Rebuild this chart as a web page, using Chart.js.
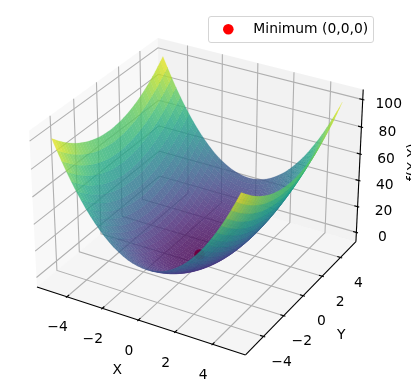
<!DOCTYPE html>
<html lang="en">
<head>
    <title>Surface with minimum</title>
    <meta charset="utf-8" />
    <script src="https://cdn.jsdelivr.net/npm/chart.js@4/dist/chart.umd.min.js"></script>
    <style>
        html, body { margin: 0; padding: 0; background: #fff; }
        canvas { display: block; }
    </style>
</head>
<body>
    <canvas id="chart" width="411" height="392"></canvas>
    <script>
        //Values.
        var gridSteps = [0, 0.25, 0.5, 0.75, 1, 1.25, 1.5, 1.75, 2, 2.25, 2.5, 2.75, 3, 3.25, 3.5, 3.75, 4, 4.25, 4.5, 4.75, 5];
        //Height of one quadrant, row = |x| step, column = |y| step. The other three quadrants mirror it.
        var zRows = [
            [0,.1,.3,.6,1,1.6,2.3,3.1,4,5.1,6.3,7.6,9,10.6,12.3,14.1,16,18.1,20.3,22.6,25],
            [.2,.3,.5,.8,1.2,1.8,2.5,3.3,4.2,5.3,6.5,7.8,9.2,10.8,12.5,14.3,16.2,18.3,20.5,22.8,25.2],
            [.8,.9,1.1,1.4,1.8,2.4,3.1,3.9,4.8,5.9,7.1,8.4,9.8,11.4,13.1,14.9,16.8,18.9,21.1,23.4,25.8],
            [1.7,1.8,2,2.3,2.7,3.3,4,4.8,5.7,6.8,8,9.3,10.7,12.3,14,15.8,17.7,19.8,22,24.3,26.7],
            [3,3.1,3.3,3.6,4,4.6,5.3,6.1,7,8.1,9.3,10.6,12,13.6,15.3,17.1,19,21.1,23.3,25.6,28],
            [4.7,4.8,5,5.3,5.7,6.3,7,7.8,8.7,9.8,11,12.3,13.7,15.3,17,18.8,20.7,22.8,25,27.3,29.7],
            [6.8,6.9,7.1,7.4,7.8,8.4,9.1,9.9,10.8,11.9,13.1,14.4,15.8,17.4,19.1,20.9,22.8,24.9,27.1,29.4,31.8],
            [9.2,9.3,9.5,9.8,10.2,10.8,11.5,12.3,13.2,14.3,15.5,16.8,18.2,19.8,21.5,23.3,25.2,27.3,29.5,31.8,34.2],
            [12,12.1,12.3,12.6,13,13.6,14.3,15.1,16,17.1,18.3,19.6,21,22.6,24.3,26.1,28,30.1,32.3,34.6,37],
            [15.2,15.3,15.5,15.8,16.2,16.8,17.5,18.3,19.2,20.3,21.5,22.8,24.2,25.8,27.5,29.3,31.2,33.3,35.5,37.8,40.2],
            [18.8,18.9,19.1,19.4,19.8,20.4,21.1,21.9,22.8,23.9,25.1,26.4,27.8,29.4,31.1,32.9,34.8,36.9,39.1,41.4,43.8],
            [22.7,22.8,23,23.3,23.7,24.3,25,25.8,26.7,27.8,29,30.3,31.7,33.3,35,36.8,38.7,40.8,43,45.3,47.7],
            [27,27.1,27.3,27.6,28,28.6,29.3,30.1,31,32.1,33.3,34.6,36,37.6,39.3,41.1,43,45.1,47.3,49.6,52],
            [31.7,31.8,32,32.3,32.7,33.3,34,34.8,35.7,36.8,38,39.3,40.7,42.3,44,45.8,47.7,49.8,52,54.3,56.7],
            [36.8,36.9,37.1,37.4,37.8,38.4,39.1,39.9,40.8,41.9,43.1,44.4,45.8,47.4,49.1,50.9,52.8,54.9,57.1,59.4,61.8],
            [42.2,42.3,42.5,42.8,43.2,43.8,44.5,45.3,46.2,47.3,48.5,49.8,51.2,52.8,54.5,56.3,58.2,60.3,62.5,64.8,67.2],
            [48,48.1,48.3,48.6,49,49.6,50.3,51.1,52,53.1,54.3,55.6,57,58.6,60.3,62.1,64,66.1,68.3,70.6,73],
            [54.2,54.3,54.5,54.8,55.2,55.8,56.5,57.3,58.2,59.3,60.5,61.8,63.2,64.8,66.5,68.3,70.2,72.3,74.5,76.8,79.2],
            [60.8,60.9,61.1,61.4,61.8,62.4,63.1,63.9,64.8,65.9,67.1,68.4,69.8,71.4,73.1,74.9,76.8,78.9,81.1,83.4,85.8],
            [67.7,67.8,68,68.3,68.7,69.3,70,70.8,71.7,72.8,74,75.3,76.7,78.3,80,81.8,83.7,85.8,88,90.3,92.7],
            [75,75.1,75.3,75.6,76,76.6,77.3,78.1,79,80.1,81.3,82.6,84,85.6,87.3,89.1,91,93.1,95.3,97.6,100]
        ];
        var xTicks = [-4, -2, 0, 2, 4];
        var yTicks = [-4, -2, 0, 2, 4];
        var zTicks = [0, 20, 40, 60, 80, 100];
        var minimumPoint = [0, 0, 0];
        var minimumLabel = 'Minimum (0,0,0)';
        var viridis = ['#440154', '#482475', '#414487', '#355f8d', '#2a788e', '#21918c', '#22a884', '#44bf70', '#7ad151', '#bddf26', '#fde725'];

        //Axis limits and box of the 3D view.
        var xView = 5.5, zLo = -5, zHi = 105;
        var xPane = 5.729, zPaneLo = -7.29, zPaneHi = 107.29;
        var boxXY = 1.19048, boxZ = 0.89286;
        var FONT = '"DejaVu Sans"';
        var FONT_SIZE = 13.89;

        //Camera: elevation 30, azimuth -60, distance 10.
        function depth(p) {
            var dx = p[0] / (2 * xView) * boxXY, dy = p[1] / (2 * xView) * boxXY;
            var dz = (p[2] - (zLo + zHi) / 2) / (zHi - zLo) * boxZ;
            return 0.43301 * dx - 0.75 * dy + 0.5 * dz;
        }

        //3D data point -> value on the two flat chart scales (which run in pixels).
        function project(p) {
            var dx = p[0] / (2 * xView) * boxXY, dy = p[1] / (2 * xView) * boxXY;
            var dz = (p[2] - (zLo + zHi) / 2) / (zHi - zLo) * boxZ;
            var xc = 0.86603 * dx + 0.5 * dy;
            var yc = -0.25 * dx + 0.43301 * dy + 0.86603 * dz;
            var w = 10 - depth(p);
            return { x: 199.5 + 1926 * xc / w, y: 188.6 - 1913 * yc / w };
        }

        function viridisAt(t) {
            t = Math.max(0, Math.min(1, t)) * (viridis.length - 1);
            var i = Math.min(Math.floor(t), viridis.length - 2), f = t - i;
            var a = parseInt(viridis[i].slice(1), 16), b = parseInt(viridis[i + 1].slice(1), 16);
            var mix = function (s) {
                return Math.round(((a >> s) & 255) * (1 - f) + ((b >> s) & 255) * f);
            };
            return 'rgba(' + mix(16) + ',' + mix(8) + ',' + mix(0) + ',0.8)';
        }

        function polyline(points, color, width) {
            return {
                type: 'line', data: points.map(project), borderColor: color, borderWidth: width,
                pointRadius: 0, fill: false, tension: 0, clip: false
            };
        }

        function polygon(points, color, seam) {
            var pts = points.concat([points[0]]);
            return {
                type: 'line', data: pts.map(project), backgroundColor: color, borderWidth: seam || 0,
                borderColor: seam ? color : 'rgba(0,0,0,0)', pointRadius: 0, fill: 'shape', tension: 0, clip: false
            };
        }

        //Datasets are listed back to front, and reversed at the end because Chart.js paints index 0 last.
        var layers = [];

        //Panes
        layers.push(polygon([[-xPane, -xPane, zPaneLo], [-xPane, xPane, zPaneLo], [-xPane, xPane, zPaneHi], [-xPane, -xPane, zPaneHi]], 'rgba(242,242,242,0.5)'));
        layers.push(polygon([[-xPane, xPane, zPaneLo], [xPane, xPane, zPaneLo], [xPane, xPane, zPaneHi], [-xPane, xPane, zPaneHi]], 'rgba(230,230,230,0.5)'));
        layers.push(polygon([[-xPane, -xPane, zPaneLo], [xPane, -xPane, zPaneLo], [xPane, xPane, zPaneLo], [-xPane, xPane, zPaneLo]], 'rgba(236,236,236,0.5)'));

        //Grid lines
        var GRID = '#b0b0b0';
        xTicks.forEach(function (t) {
            layers.push(polyline([[t, -xPane, zPaneLo], [t, xPane, zPaneLo], [t, xPane, zPaneHi]], GRID, 1.1));
        });
        yTicks.forEach(function (t) {
            layers.push(polyline([[xPane, t, zPaneLo], [-xPane, t, zPaneLo], [-xPane, t, zPaneHi]], GRID, 1.1));
        });
        zTicks.forEach(function (t) {
            layers.push(polyline([[-xPane, -xPane, t], [-xPane, xPane, t], [xPane, xPane, t]], GRID, 1.1));
        });

        //Axis lines and tick marks
        layers.push(polyline([[-xPane, -xPane, zPaneLo], [xPane, -xPane, zPaneLo]], '#000', 1.1));
        layers.push(polyline([[xPane, -xPane, zPaneLo], [xPane, xPane, zPaneLo]], '#000', 1.1));
        layers.push(polyline([[xPane, xPane, zPaneLo], [xPane, xPane, zPaneHi]], '#000', 1.1));
        xTicks.forEach(function (t) {
            layers.push(polyline([[t, -xPane - 0.09, zPaneLo], [t, -xPane + 0.18, zPaneLo]], '#000', 1.1));
        });
        yTicks.forEach(function (t) {
            layers.push(polyline([[xPane + 0.09, t, zPaneLo], [xPane - 0.18, t, zPaneLo]], '#000', 1.1));
        });
        zTicks.forEach(function (t) {
            layers.push(polyline([[xPane + 0.09, xPane, t], [xPane - 0.18, xPane, t]], '#000', 1.1));
        });

        //Minimum marker, painted before the surface so it shows through it
        layers.push({
            type: 'scatter', label: minimumLabel, data: [project(minimumPoint)],
            backgroundColor: '#ff0000', borderWidth: 0, pointRadius: 5.3, clip: false
        });

        //Surface facets, far ones first
        var full = [];
        for (var n = gridSteps.length - 1; n > 0; n--) { full.push(-n); }
        for (n = 0; n < gridSteps.length; n++) { full.push(n); }
        function vertex(i, j) {
            return [Math.sign(i) * gridSteps[Math.abs(i)], Math.sign(j) * gridSteps[Math.abs(j)], zRows[Math.abs(i)][Math.abs(j)]];
        }
        var facets = [];
        for (var a = 0; a < full.length - 1; a++) {
            for (var b = 0; b < full.length - 1; b++) {
                var quad = [vertex(full[a], full[b]), vertex(full[a + 1], full[b]), vertex(full[a + 1], full[b + 1]), vertex(full[a], full[b + 1])];
                var meanZ = 0, meanD = 0;
                quad.forEach(function (q) { meanZ += q[2] / 4; meanD += depth(q) / 4; });
                facets.push({ quad: quad, z: meanZ, d: meanD });
            }
        }
        facets.sort(function (p, q) { return p.d - q.d; });
        facets.forEach(function (f) {
            layers.push(polygon(f.quad, viridisAt(f.z / 100), 0.2));
        });

        //Tick labels, axis labels and the legend box
        var textPlugin = {
            id: 'textPlugin',
            afterDraw: function (chart) {
                var ctx = chart.ctx, sx = chart.scales.x, sy = chart.scales.y;
                function label(text, p, ox, oy) {
                    var q = project(p);
                    ctx.fillText(text, sx.getPixelForValue(q.x) + ox, sy.getPixelForValue(q.y) + oy);
                }
                function tickText(t) {
                    return String(t).replace('-', '\u2212');
                }
                ctx.save();
                ctx.fillStyle = '#000';
                ctx.font = FONT_SIZE + 'px ' + FONT;
                ctx.textAlign = 'center';
                ctx.textBaseline = 'middle';
                xTicks.forEach(function (t) { label(tickText(t), [t, -xPane, zPaneLo], -9.5, 31); });
                yTicks.forEach(function (t) { label(tickText(t), [xPane, t, zPaneLo], 18, 26); });
                zTicks.forEach(function (t) { label(tickText(t), [xPane, xPane, t], 26, 5); });
                label('X', [0, -xPane, zPaneLo], -21, 50);
                label('Y', [xPane, 0, zPaneLo], 38, 40);

                //z label runs upward and is cut by the right edge
                var zl = project([xPane, xPane, 50]);
                ctx.save();
                ctx.translate(sx.getPixelForValue(zl.x) + 53.5, sy.getPixelForValue(zl.y) - 5);
                ctx.rotate(-Math.PI / 2);
                ctx.fillText('f(X,Y)', 0, 0);
                ctx.restore();

                //Legend
                ctx.beginPath();
                ctx.roundRect(208.5, 16.5, 165, 26, 2.5);
                ctx.fillStyle = 'rgba(255,255,255,0.8)';
                ctx.fill();
                ctx.strokeStyle = '#d5d5d5';
                ctx.lineWidth = 1;
                ctx.stroke();
                ctx.beginPath();
                ctx.arc(228.3, 29.3, 5.3, 0, 2 * Math.PI);
                ctx.fillStyle = '#ff0000';
                ctx.fill();
                ctx.fillStyle = '#000';
                ctx.textAlign = 'left';
                ctx.fillText(minimumLabel, 253.3, 29.5);
                ctx.restore();
            }
        };

        new Chart(document.getElementById('chart').getContext('2d'), {
            type: 'scatter',
            data: { datasets: layers.reverse() },
            options: {
                responsive: false,
                animation: false,
                parsing: false,
                normalized: true,
                events: [],
                layout: { padding: 0, autoPadding: false },
                plugins: { legend: { display: false }, tooltip: { enabled: false } },
                scales: {
                    x: { type: 'linear', min: 0, max: 411, display: false },
                    y: { type: 'linear', min: 0, max: 392, reverse: true, display: false }
                }
            },
            plugins: [textPlugin]
        });
    </script>
</body>
</html>
